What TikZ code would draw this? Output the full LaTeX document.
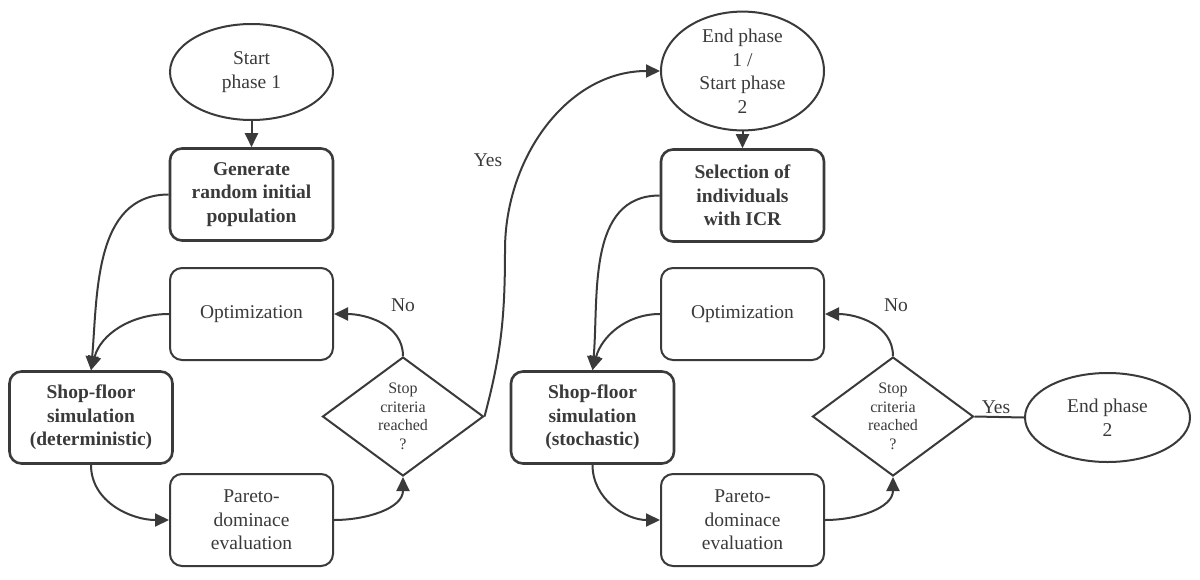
\documentclass[tikz,border=0pt]{standalone}
\usepackage{fontspec}
\newfontfamily\diagfont{Liberation Serif}
\usetikzlibrary{shapes.geometric,arrows.meta}
\definecolor{ink}{HTML}{3A3A3A}
\begin{document}
\begin{tikzpicture}[x=1pt,y=-1pt,
  every node/.style={text=ink},
  base/.style={draw=ink, line width=2pt, align=center, inner sep=0pt,
    font=\diagfont\fontsize{19.5}{23.5}\selectfont},
  procbox/.style={base, rectangle, rounded corners=12pt, minimum width=163pt, minimum height=92pt},
  boldbox/.style={procbox, line width=2.6pt, font=\diagfont\bfseries\fontsize{19.5}{23.5}\selectfont},
  term/.style={base, ellipse, minimum width=163pt},
  decision/.style={base, diamond, aspect=1.36, minimum width=161pt, minimum height=119pt,
    font=\diagfont\fontsize{16}{18.5}\selectfont},
  lbl/.style={font=\diagfont\fontsize{19.5}{23.5}\selectfont},
  conn/.style={draw=ink, line width=2pt},
  arr/.style={conn, -{Triangle[length=14pt,width=13pt]}}
]
\useasboundingbox (0,0) rectangle (1200,579);

% left half
\node[term, minimum height=96pt] (s1) at (251.5,72) {Start\\phase 1};
\node[boldbox] (gen) at (251.5,194.5) {Generate\\random initial\\population};
\node[procbox] (opt1) at (251.5,314) {Optimization};
\node[boldbox] (shop1) at (91,417.5) {Shop-floor\\simulation\\(deterministic)};
\node[procbox] (par1) at (251.5,520) {Pareto-\\dominace\\evaluation};
\node[decision] (dec1) at (403,416.5) {Stop\\criteria\\reached\\?};
\node[lbl] (no1) at (403,305) {No};
\node[lbl] (yes1) at (488,160) {Yes};

% right half
\node[term, minimum height=114pt] (e1) at (742.5,71) {End phase\\1 /\\Start phase\\2};
\node[boldbox] (sel) at (742.5,195.5) {Selection of\\individuals\\with ICR};
\node[procbox] (opt2) at (742.5,314) {Optimization};
\node[boldbox] (shop2) at (592.5,417.5) {Shop-floor\\simulation\\(stochastic)};
\node[procbox] (par2) at (742.5,520) {Pareto-\\dominace\\evaluation};
\node[decision] (dec2) at (893,416.5) {Stop\\criteria\\reached\\?};
\node[term, minimum width=165pt, minimum height=89pt] (e2) at (1107.5,417.5) {End phase\\2};
\node[lbl] (no2) at (896,305) {No};
\node[lbl] (yes2) at (996,407) {Yes};

\coordinate (up1) at (505,250);

% connectors left
\draw[arr] (s1.south) -- (gen.north);
\draw[arr] (gen.west) to[out=180,in=85] (shop1.north);
\draw[arr] (opt1.west) to[out=180,in=75] (shop1.north);
\draw[arr] (shop1.south) to[out=-90,in=180] (par1.west);
\draw[arr] (par1.east) to[out=0,in=-90] (dec1.south);
\draw[arr] (dec1.north) to[out=90,in=0] (opt1.east);
\draw[arr] (dec1.east) to[out=75,in=-90] (up1) to[out=90,in=180] (e1.west);

% connectors right
\draw[arr] (e1.south) -- (sel.north);
\draw[arr] (sel.west) to[out=180,in=85] (shop2.north);
\draw[arr] (opt2.west) to[out=180,in=75] (shop2.north);
\draw[arr] (shop2.south) to[out=-90,in=180] (par2.west);
\draw[arr] (par2.east) to[out=0,in=-90] (dec2.south);
\draw[arr] (dec2.north) to[out=90,in=0] (opt2.east);
\draw[conn] (dec2.east) -- (e2.west);
\end{tikzpicture}
\end{document}
